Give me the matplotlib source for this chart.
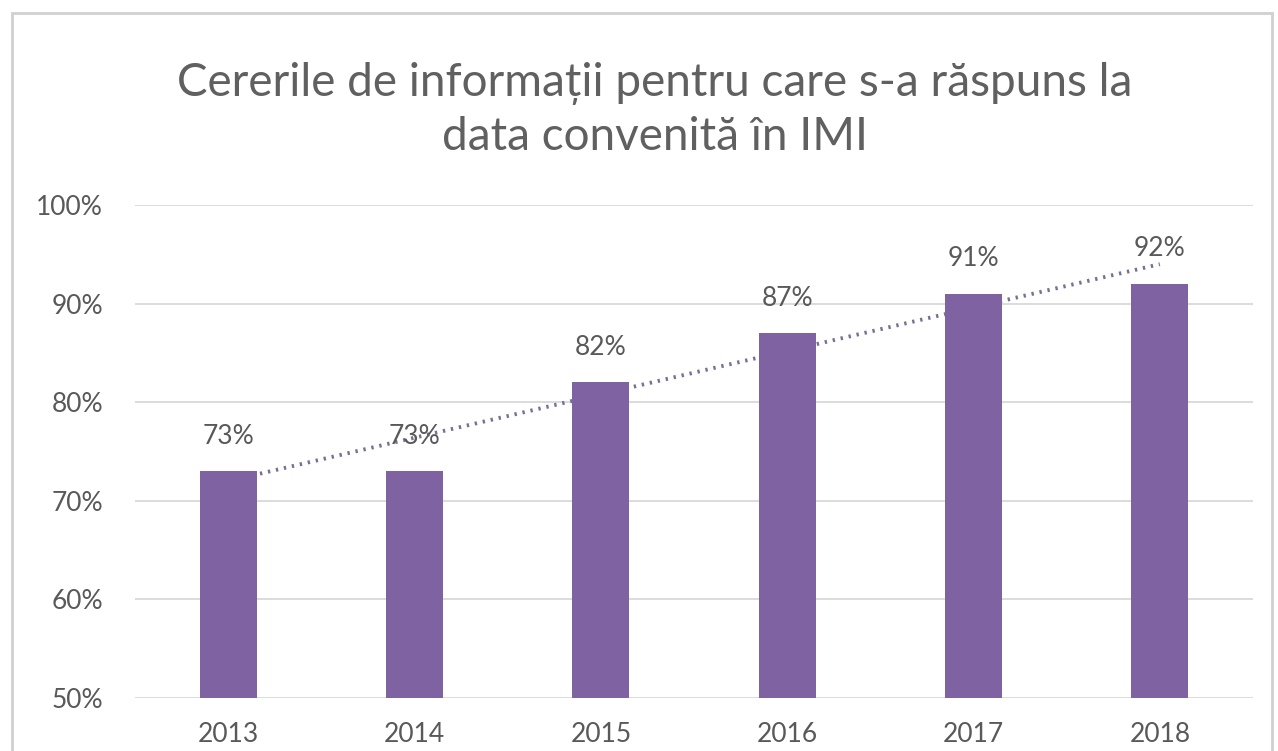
import numpy as np
import matplotlib
matplotlib.use('Agg')
import matplotlib.pyplot as plt
from matplotlib.patches import Rectangle

years = ['2013', '2014', '2015', '2016', '2017', '2018']
values = [73, 73, 82, 87, 91, 92]
y_ticks = [50, 60, 70, 80, 90, 100]
title = 'Cererile de informații pentru care s-a răspuns la\ndata convenită în IMI'

plt.rcParams['font.family'] = ['Lato', 'DejaVu Sans']
text_color = '#595959'
bar_color = '#7f62a1'

W, H = 1278, 751
fig = plt.figure(figsize=(W / 100, H / 100), dpi=100)

# chart frame (Excel style border)
fig.patches.append(Rectangle((12 / W, -0.05), (1272 - 12) / W, 1.05 - 13 / H,
                             transform=fig.transFigure, fill=False,
                             edgecolor='#d0d0d0', linewidth=2))

ax = fig.add_axes([135 / W, 1 - 698 / H, (1253 - 135) / W, (698 - 205) / H])
x = np.arange(len(years))
ax.bar(x, values, width=0.305, color=bar_color, zorder=3, bottom=0)

# linear trendline behind the bars
slope, icpt = np.polyfit(x, values, 1)
ax.plot(x, slope * x + icpt, linestyle=(0, (0.6, 1.5)), color='#7b6e93',
        linewidth=2.8, zorder=2)

for xi, v in zip(x, values):
    ax.text(xi, v + 2.3, f'{v}%', ha='center', va='bottom', fontsize=19,
            color=text_color, zorder=4)

ax.set_ylim(50, 100)
ax.set_xlim(-0.5, len(years) - 0.5)
ax.set_yticks(y_ticks)
ax.set_yticklabels([f'{t}%' for t in y_ticks])
ax.set_xticks(x)
ax.set_xticklabels(years)
ax.tick_params(length=0, labelsize=19, colors=text_color)
ax.tick_params(axis='y', pad=23)
ax.tick_params(axis='x', pad=17)
ax.yaxis.grid(True, color='#d9d9d9', linewidth=1.3, zorder=0)
ax.set_axisbelow(True)
for s in ax.spines.values():
    s.set_visible(False)

fig.text(655 / W, 1 - 110 / H, title, ha='center', va='center', fontsize=33,
         color='#606060', linespacing=1.35)

fig.savefig('out.png', dpi=100, facecolor='white')
